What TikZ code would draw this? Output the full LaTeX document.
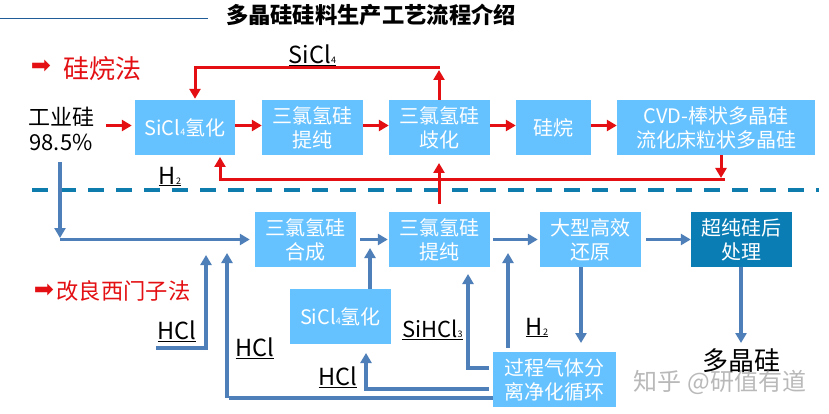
\documentclass[tikz,border=0pt]{standalone}
\usepackage{fontspec}
\setmainfont{Noto Sans CJK SC}
\newfontfamily\symf{DejaVu Sans}
\usetikzlibrary{arrows.meta}
\definecolor{boxc}{HTML}{66C2FF}
\definecolor{darkc}{HTML}{0A7DB5}
\definecolor{redc}{HTML}{E30F12}
\definecolor{bluec}{HTML}{4F7FB8}
\definecolor{dashc}{HTML}{0E7DAE}
\definecolor{rulec}{HTML}{1F5C99}
\newcommand\fsz[2]{\fontsize{#1}{#2}\selectfont}
\newcommand\subn[1]{{\fsz{9}{9}#1}}
\newcommand\lbl[1]{\vbox{\hbox{#1}\kern 0.5pt\hrule height 1.1pt}}
\tikzset{
  bx/.style={fill=boxc,text=white,inner sep=0pt,align=center,font=\fsz{20}{24}},
  dbx/.style={bx,fill=darkc},
  ra/.style={draw=redc,line width=3pt},
  ba/.style={draw=bluec,line width=3.4pt},
  rh/.style={ra,-{Triangle[length=10pt,width=11pt]}},
  bh/.style={ba,-{Triangle[length=10pt,width=11pt]}},
  lab/.style={inner sep=0pt,text=black,anchor=south,font=\fsz{23.5}{28}},
  redt/.style={inner sep=0pt,text=redc}
}
\begin{document}
\begin{tikzpicture}[x=1pt,y=-1pt]
\useasboundingbox[fill=white] (0,0) rectangle (829,414);
% top rule and title
\coordinate (r0) at (0,19);
\coordinate (r1) at (208,19);
\draw[draw=rulec,line width=1pt] (r0) -- (r1);
\node[inner sep=0pt,font=\fsz{22.3}{26}\bfseries] (title) at (371,15) {多晶硅硅料生产工艺流程介绍};
% divider
\coordinate (d0) at (32,190);
\coordinate (d1) at (819,190);
\draw[draw=dashc,line width=4pt,dash pattern=on 16pt off 12pt] (d0) -- (d1);
% upper row
\node[bx,minimum width=100pt,minimum height=55pt] (sicl) at (185,127.5) {SiCl\subn{4}氢化};
\node[bx,minimum width=101pt,minimum height=55pt] (tcs) at (312.5,127.5) {三氯氢硅\\提纯};
\node[bx,minimum width=101pt,minimum height=55pt] (dis) at (439.5,127.5) {三氯氢硅\\歧化};
\node[bx,minimum width=75pt,minimum height=55pt] (sil) at (553.5,127.5) {硅烷};
\node[bx,minimum width=198pt,minimum height=55pt] (cvd) at (716,127.5) {CVD-棒状多晶硅\\流化床粒状多晶硅};
% lower row
\node[bx,minimum width=101pt,minimum height=55pt] (syn) at (305.5,239.5) {三氯氢硅\\合成};
\node[bx,minimum width=101pt,minimum height=55pt] (pur) at (439.5,239.5) {三氯氢硅\\提纯};
\node[bx,minimum width=101pt,minimum height=55pt] (redu) at (590.5,239.5) {大型高效\\还原};
\node[dbx,minimum width=101pt,minimum height=55pt] (post) at (741.5,239.5) {超纯硅后\\处理};
\node[bx,minimum width=101pt,minimum height=55pt] (low) at (340.5,316.5) {SiCl\subn{4}氢化};
\node[bx,minimum width=123pt,minimum height=55pt] (gas) at (554.5,379.5) {过程气体分\\离净化循环};
% text labels
\node[inner sep=0pt,align=center,font=\fsz{22}{25}] (gy) at (61,129) {工业硅\\98.5\%};
\node[redt,font=\fsz{26}{30}] (m1) at (102,69) {硅烷法};
\node[redt,font=\symf\fsz{24}{26}] (a1) at (41,67) {➡};
\node[redt,font=\fsz{22.3}{26}] (m2) at (123.5,291) {改良西门子法};
\node[redt,font=\symf\fsz{24}{26}] (a2) at (44,291) {➡};
\node[lab] (lsicl) at (312.5,66) {\lbl{SiCl\subn{4}}};
\node[lab] (lh1) at (170,186) {\lbl{H\subn{2}}};
\node[lab] (lh2) at (537,337) {\lbl{H\subn{2}}};
\node[lab] (lhcl1) at (177,342) {\lbl{HCl}};
\node[lab] (lhcl2) at (255,359) {\lbl{HCl}};
\node[lab] (lhcl3) at (338,388) {\lbl{HCl}};
\node[lab,font=\fsz{22}{28}] (lsih) at (432.5,340) {\lbl{SiHCl\subn{3}}};
\node[inner sep=0pt,font=\fsz{26}{30}] (poly) at (741,361) {多晶硅};
\node[inner sep=0pt,text=gray,opacity=.55,font=\fsz{24}{26}] (wm) at (720,382) {知乎 @研值有道};
% red connectors
\coordinate (ry) at (0,125.5);
\draw[rh,shorten <=12pt,shorten >=3pt] (gy.east |- ry) -- (sicl.west |- ry);
\draw[rh] (sicl.east |- ry) -- (tcs.west |- ry);
\draw[rh] (tcs.east |- ry) -- (dis.west |- ry);
\draw[rh] (dis.east |- ry) -- (sil.west |- ry);
\draw[rh] (sil.east |- ry) -- (cvd.west |- ry);
\coordinate (t1) at (439,70);
\coordinate (t2) at (439.5,68);
\coordinate (t3) at (195,68);
\draw[rh] (t1 |- dis.north) -- (t1);
\draw[rh,shorten >=1pt] (t2) -- (t3) -- (t3 |- sicl.north);
\coordinate (b1) at (721,178);
\coordinate (b2) at (725,180);
\coordinate (b3) at (220,180);
\coordinate (b4) at (220,157);
\coordinate (b5) at (439,204);
\coordinate (b6) at (439,163);
\draw[rh] (b1 |- cvd.south) -- (b1);
\draw[rh] (b2) -- (b3) -- (b4);
\draw[rh] (b5) -- (b6);
% blue connectors
\coordinate (s0) at (60,162);
\coordinate (s1) at (60,238);
\coordinate (s2) at (60,239.5);
\draw[bh] (s0) -- (s1);
\draw[bh,shorten >=5pt] (s2) -- (syn.west);
\draw[bh,shorten <=4pt,shorten >=1pt] (syn.east) -- (pur.west);
\draw[bh,shorten <=3pt,shorten >=2pt] (pur.east) -- (redu.west);
\draw[bh,shorten <=5pt] (redu.east) -- (post.west);
\coordinate (u1) at (370,248);
\draw[bh] (u1 |- low.north) -- (u1);
\coordinate (v1) at (581,343);
\draw[bh] (v1 |- redu.south) -- (v1);
\coordinate (v2) at (741,343);
\draw[bh] (v2 |- post.south) -- (v2);
\coordinate (h1) at (508,253);
\coordinate (h2) at (508,348);
\draw[bh] (h2) -- (h1);
\coordinate (k0) at (489,368);
\coordinate (k1) at (468,368);
\coordinate (k2) at (468,274);
\draw[bh] (k0) -- (k1) -- (k2);
\coordinate (l0) at (489,389);
\coordinate (l1) at (366,389);
\coordinate (l2) at (366,353);
\draw[bh] (l0) -- (l1) -- (l2);
\coordinate (n1) at (229,398);
\draw[ba] (gas.west |- n1) -- (n1);
\coordinate (o0) at (227,398);
\coordinate (o1) at (227,253);
\draw[bh] (o0) -- (o1);
\coordinate (q0) at (156,348);
\coordinate (q1) at (206,348);
\coordinate (q2) at (206,255);
\draw[bh] (q0) -- (q1) -- (q2);
\end{tikzpicture}
\end{document}
